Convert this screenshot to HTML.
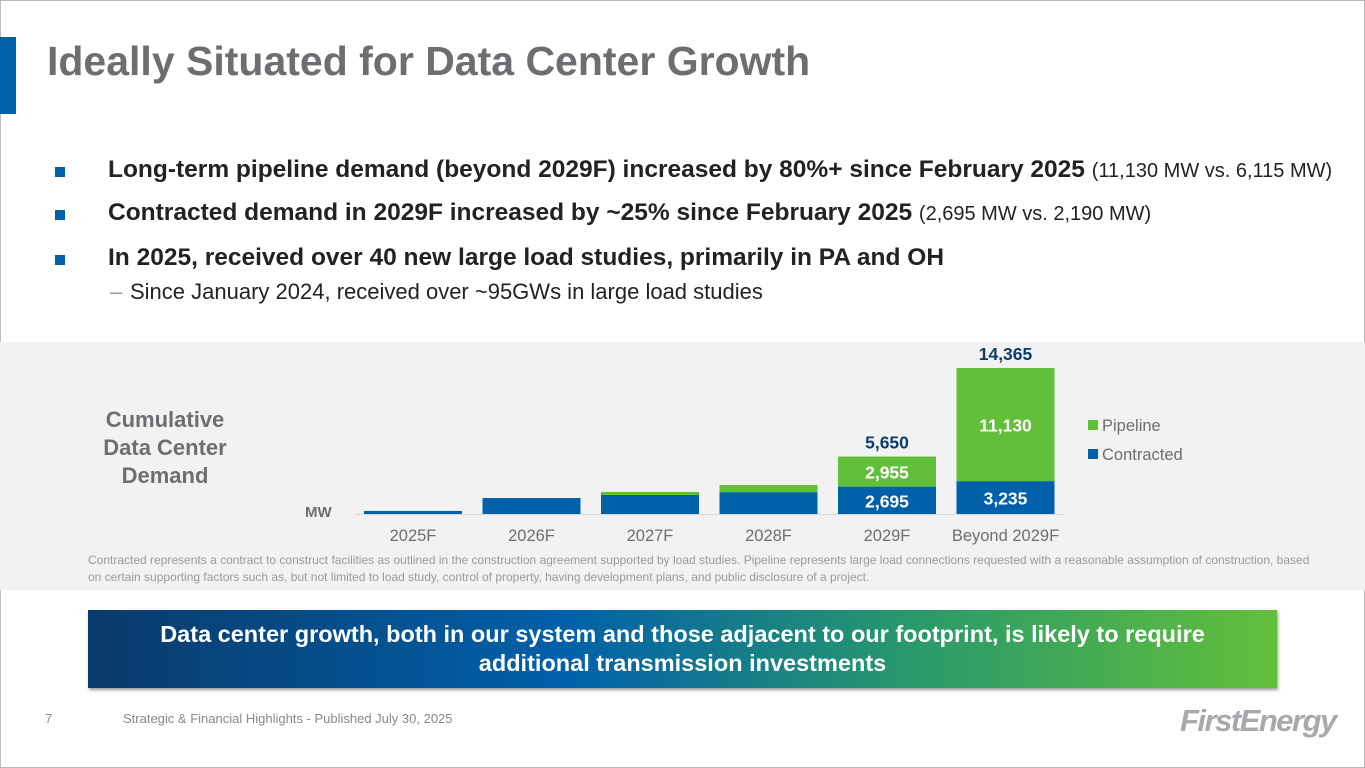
<!DOCTYPE html>
<html><head><meta charset="utf-8"><style>
body{margin:0;width:1365px;height:768px;background:#fff;font-family:"Liberation Sans",sans-serif;position:relative;overflow:hidden}
.abs{position:absolute}
.b{font-weight:bold}
.row{position:absolute;left:0;white-space:nowrap}
.sq{position:absolute;left:0;width:10px;height:10px;background:#0060a9}
</style></head><body>
<div class="abs" style="left:0;top:0;width:1363px;height:766px;border:1px solid #bbb"></div>
<div class="abs" style="left:0;top:37px;width:16px;height:77px;background:#0060a9"></div>
<div class="abs b" style="left:47px;top:38px;font-size:41px;color:#6d6e71">Ideally Situated for Data Center Growth</div>
<div class="abs" style="left:55px;top:0;font-size:24.5px;color:#222">
<div class="row" style="top:156px"><span class="sq" style="top:11px"></span><span style="margin-left:53px"><b>Long-term pipeline demand (beyond 2029F) increased by 80%+ since February 2025</b> <span style="font-size:20px">(11,130 MW vs. 6,115 MW)</span></span></div>
<div class="row" style="top:199px"><span class="sq" style="top:11px"></span><span style="margin-left:53px"><b>Contracted demand in 2029F increased by ~25% since February 2025</b> <span style="font-size:20px">(2,695 MW vs. 2,190 MW)</span></span></div>
<div class="row" style="top:244px"><span class="sq" style="top:11px"></span><span style="margin-left:53px"><b>In 2025, received over 40 new large load studies, primarily in PA and OH</b></span></div>
<div class="row" style="top:279px;left:55px;font-size:22px"><span style="color:#999">–</span><span style="position:absolute;left:20px">Since January 2024, received over ~95GWs in large load studies</span></div>
</div>
<div class="abs" style="left:0;top:342px;width:1365px;height:248px;background:#f2f2f2"></div>
<div class="abs b" style="left:80px;top:406px;width:170px;text-align:center;font-size:22px;line-height:28px;color:#6d6e71">Cumulative Data Center Demand</div>
<div class="abs b" style="left:305px;top:504px;font-size:15px;color:#6d6e71">MW</div>
<svg class="abs" style="left:0;top:0" width="1365" height="768" id="chart"></svg>
<div class="abs" style="left:88px;top:552px;width:1235px;font-size:12px;line-height:17px;color:#999">Contracted represents a contract to construct facilities as outlined in the construction agreement supported by load studies. Pipeline represents large load connections requested with a reasonable assumption of construction, based on certain supporting factors such as, but not limited to load study, control of property, having development plans, and public disclosure of a project.</div>
<div class="abs b" style="left:88px;top:610px;width:1189px;height:78px;background:linear-gradient(90deg,#0a3a6a 0%,#0060a9 40%,#2a9a6a 70%,#62bf3a 100%);color:#fff;font-size:23.5px;text-align:center;line-height:29px;padding-top:10px;box-sizing:border-box;box-shadow:1px 2px 3px #999">Data center growth, both in our system and those adjacent to our footprint, is likely to require<br>additional transmission investments</div>
<div class="abs" style="left:45px;top:711px;font-size:13px;color:#888">7</div>
<div class="abs" style="left:123px;top:711px;font-size:13px;color:#888">Strategic &amp; Financial Highlights - Published July 30, 2025</div>
<div class="abs b" style="left:1180px;top:703px;font-size:31px;font-style:italic;color:#a7a9ac;letter-spacing:-1.5px">FirstEnergy</div>
<script>
const categories=["2025F","2026F","2027F","2028F","2029F","Beyond 2029F"];
const contracted=[300,1570,1870,2150,2695,3235];
const pipeline=[0,0,300,700,2955,11130];
const contractedLabels=["","","","","2,695","3,235"];
const pipelineLabels=["","","","","2,955","11,130"];
const totalLabels=["","","","","5,650","14,365"];
const svg=document.getElementById('chart');
const NS='http://www.w3.org/2000/svg';
const base=514,scale=146/14365;
const y=v=>base-v*scale;
const xc=i=>413+i*118.5;
function el(t,a){const e=document.createElementNS(NS,t);for(const k in a)e.setAttribute(k,a[k]);svg.appendChild(e);return e;}
function txt(s,x,yy,fill,size,bold,anchor){const e=el('text',{x:x,y:yy,fill:fill,'font-size':size,'font-weight':bold?'bold':'normal','text-anchor':anchor||'middle','font-family':'Liberation Sans, sans-serif'});e.textContent=s;return e;}
const ax=el('line',{x1:355,x2:1065,y1:base+0.5,y2:base+0.5,stroke:'#d9d9d9'});


categories.forEach((c,i)=>{
 const cx=xc(i),w=98;
 const r1=el('rect',{x:cx-w/2,y:y(contracted[i]),width:w,height:contracted[i]*scale,fill:'#0060a9'});
 
 
 if(pipeline[i]>0){
  const r2=el('rect',{x:cx-w/2,y:y(contracted[i]+pipeline[i]),width:w,height:pipeline[i]*scale,fill:'#62bf3a'});
  
  
 }
 if(contractedLabels[i])txt(contractedLabels[i],cx,(y(contracted[i])+base)/2+7,'#fff',17.5,true);
 if(pipelineLabels[i])txt(pipelineLabels[i],cx,(y(contracted[i]+pipeline[i])+y(contracted[i]))/2+7,'#fff',17.5,true);
 if(totalLabels[i])txt(totalLabels[i],cx,y(contracted[i]+pipeline[i])-8,'#0b3c6e',17.5,true);
 const t=txt(c,cx,541,'#6d6e71',16.5,false);
 
 
});
const l1=el('rect',{x:1088,y:420,width:10,height:10,fill:'#62bf3a'});


txt('Pipeline',1102,431,'#6d6e71',16.5,false,'start');
const l2=el('rect',{x:1088,y:449,width:10,height:10,fill:'#0060a9'});


txt('Contracted',1102,460,'#6d6e71',16.5,false,'start');
</script>
</body></html>
